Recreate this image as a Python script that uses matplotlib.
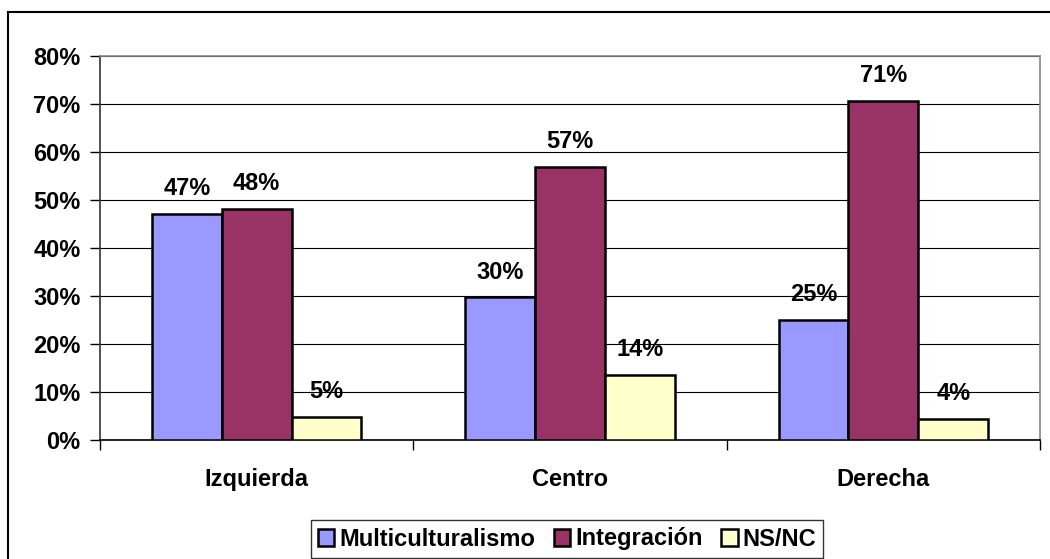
import numpy as np
import matplotlib
matplotlib.use("Agg")
import matplotlib.pyplot as plt
from matplotlib.patches import Rectangle
from matplotlib.ticker import FuncFormatter

plt.rcParams['font.family'] = ['Liberation Sans', 'DejaVu Sans']
plt.rcParams['font.weight'] = 'bold'

# data
categories = ['Izquierda', 'Centro', 'Derecha']
series = ['Multiculturalismo', 'Integración', 'NS/NC']
multi = [47.1, 29.7, 25.0]
integ = [48.1, 56.9, 70.7]
nsnc = [4.8, 13.5, 4.3]
labels_multi = ['47%', '30%', '25%']
labels_integ = ['48%', '57%', '71%']
labels_nsnc = ['5%', '14%', '4%']
colors = ['#9999FF', '#993366', '#FFFFCC']

fs = 17

fig = plt.figure(figsize=(10.5, 5.59), dpi=100)
ax = fig.add_axes([100 / 1050, 1 - 440 / 559, 940 / 1050, 384 / 559])

# outer chart frame
fig.patches.append(Rectangle((8 / 1050, -0.05), 1.2, 1 - 12 / 559 + 0.05,
                             transform=fig.transFigure, fill=False,
                             edgecolor='black', linewidth=1.5))

x = np.arange(len(categories))
w = 0.223
for i, (vals, labs) in enumerate([(multi, labels_multi), (integ, labels_integ),
                                  (nsnc, labels_nsnc)]):
    pos = x + (i - 1) * w
    ax.bar(pos, vals, width=w, color=colors[i], edgecolor='black',
           linewidth=1.8, label=series[i], zorder=3)
    for px, v, t in zip(pos, vals, labs):
        ax.annotate(t, (px, v), xytext=(0, 10), textcoords='offset points',
                    ha='center', va='bottom', fontsize=fs, fontweight='bold')

ax.set_xlim(-0.5, 2.5)
ax.set_ylim(0, 80)
ax.set_yticks(np.arange(0, 81, 10))
ax.yaxis.set_major_formatter(FuncFormatter(lambda v, p: f'{v:.0f}%'))
ax.yaxis.grid(True, color='black', linewidth=0.8, zorder=0)

ax.set_xticks(x)
ax.set_xticklabels(categories)
ax.set_xticks([-0.5, 0.5, 1.5, 2.5], minor=True)
ax.tick_params(axis='x', which='major', length=0, pad=20, labelsize=fs)
ax.tick_params(axis='x', which='minor', length=7, width=1, direction='out')
ax.tick_params(axis='y', length=7, width=1, direction='out', pad=7, labelsize=fs)

ax.spines['top'].set_color('#888888')
ax.spines['right'].set_color('#888888')
ax.spines['left'].set_color('#333333')
ax.spines['bottom'].set_color('#000000')
for s in ax.spines.values():
    s.set_linewidth(1.2)

leg = fig.legend(loc='center', bbox_to_anchor=(567 / 1050, 1 - 539 / 559),
                 ncol=3, fontsize=fs, frameon=True, fancybox=False,
                 edgecolor='black', handlelength=0.7, handleheight=0.7,
                 handletextpad=0.2, columnspacing=0.8, borderpad=0.3)
leg.get_frame().set_linewidth(1.0)
for t in leg.get_texts():
    t.set_fontweight('bold')

fig.savefig('out.png', dpi=100)
